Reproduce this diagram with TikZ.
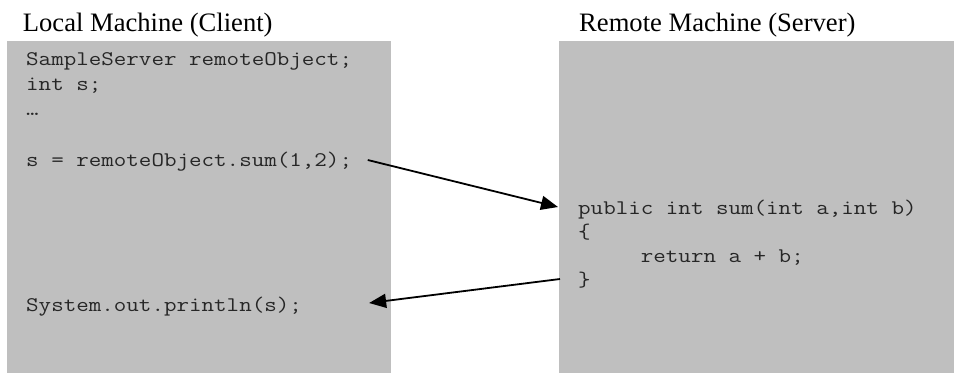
\documentclass[tikz,border=0pt]{standalone}
\usepackage{fontspec}
\setmainfont{Liberation Serif}
\setmonofont{Latin Modern Mono}[FakeStretch=1.17]
\usetikzlibrary{arrows.meta}

\tikzset{
    machine/.style={fill=black!25},
    heading/.style={font=\fontsize{26.6}{30}\selectfont, anchor=base west, inner sep=0pt},
    code/.style={font=\fontsize{20.8}{24}\selectfont\ttfamily, text=black!85, anchor=base west, inner sep=0pt},
    rmi/.style={-{Triangle[length=17pt,width=14pt]}, line width=1.8pt}
}

\begin{document}
\begin{tikzpicture}[x=1pt, y=-1pt]
    \useasboundingbox (0, 0) rectangle (954, 373);
    % the two machines
    \fill[machine] (7, 40.7) rectangle (391, 372.7);
    \fill[machine] (559, 40.7) rectangle (954, 372.7);
    \node[heading] (local) at (22.7, 31.7) {Local Machine (Client)};
    \node[heading] (remote) at (579, 31.7) {Remote Machine (Server)};
    % client code
    \node[code] (decl) at (26, 65) {SampleServer remoteObject;};
    \node[code] (ints) at (26, 90) {int s;};
    \node[code] (dots) at (26, 115) {…};
    \node[code] (sumcall) at (26, 166) {s = remoteObject.sum(1,2);};
    \node[code] (print) at (26, 311) {System.out.println(s);};
    % server code
    \node[code] (sumdef) at (578, 214) {public int sum(int a,int b)};
    \node[code] (open) at (578, 238) {\{};
    \node[code] (ret) at (578, 262) {\ \ \ \ \ return a + b;};
    \node[code] (close) at (578, 286) {\}};
    % call and return
    \draw[rmi] ([xshift=15.5pt, yshift=6pt]sumcall.base east) -- ([xshift=-20pt, yshift=7pt]sumdef.base west);
    \draw[rmi] ([xshift=-18pt, yshift=7pt]close.base west) -- ([xshift=67pt, yshift=8pt]print.base east);
\end{tikzpicture}
\end{document}
